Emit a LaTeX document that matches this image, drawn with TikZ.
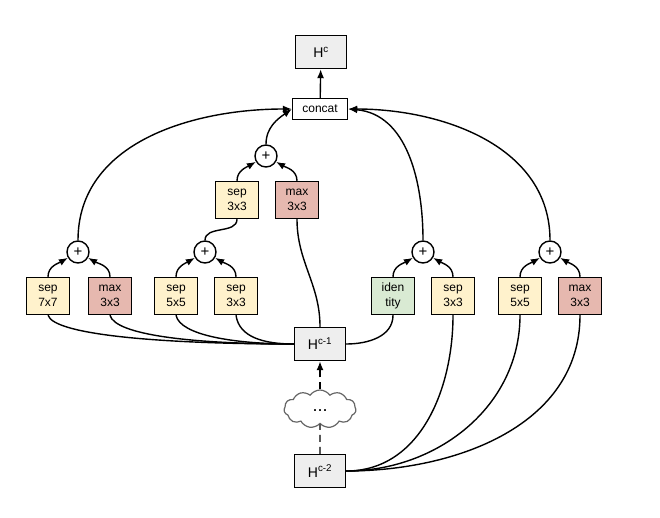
\documentclass[tikz,border=0pt]{standalone}
\usepackage{fontspec}
\setmainfont{Liberation Sans}
\usetikzlibrary{arrows.meta,shapes.symbols}
\definecolor{sepc}{HTML}{FFF2CC}
\definecolor{maxc}{HTML}{E6B8AF}
\definecolor{idc}{HTML}{D9EAD3}
\definecolor{hc}{HTML}{EEEEEE}
\begin{document}
\begin{tikzpicture}[x=1pt,y=-1pt,
  every node/.style={inner sep=0pt, font=\fontsize{12}{14.5}\selectfont},
  op/.style={draw, line width=1.4pt, minimum width=43pt, minimum height=37pt, align=center},
  sepbox/.style={op, fill=sepc},
  maxbox/.style={op, fill=maxc},
  idbox/.style={op, fill=idc},
  hbox/.style={draw, line width=1.4pt, fill=hc, minimum width=51pt, minimum height=33pt, font=\fontsize{14}{16}\selectfont},
  plus/.style={draw, circle, line width=1.4pt, fill=white, minimum size=22pt, font=\fontsize{15}{16}\selectfont},
  conn/.style={line width=1.4pt},
  arr/.style={conn, -{Latex[length=9pt,width=7pt]}}
]
\useasboundingbox (0,0) rectangle (660,518);
% nodes
\node[hbox] (Hc) at (321,52) {H\textsuperscript{c}};
\node[draw, line width=1.4pt, fill=white, minimum width=55pt, minimum height=21pt] (concat) at (320,109) {concat};
\node[plus] (pM) at (266,156) {+};
\node[sepbox] (sM) at (237,200) {sep\\3x3};
\node[maxbox] (mM) at (297,200) {max\\3x3};
\node[plus] (p1) at (78,252) {+};
\node[plus] (p2) at (205,252) {+};
\node[plus] (p3) at (423,252) {+};
\node[plus] (p4) at (550,252) {+};
\node[sepbox] (s77) at (48,296) {sep\\7x7};
\node[maxbox] (m1) at (110,296) {max\\3x3};
\node[sepbox] (s55a) at (176,296) {sep\\5x5};
\node[sepbox] (s33a) at (236,296) {sep\\3x3};
\node[idbox] (id) at (393,296) {iden\\tity};
\node[sepbox] (s33b) at (453,296) {sep\\3x3};
\node[sepbox] (s55b) at (520,296) {sep\\5x5};
\node[maxbox] (m4) at (580,296) {max\\3x3};
\node[hbox] (Hc1) at (320,344) {H\textsuperscript{c-1}};
\node[cloud, cloud puffs=11, cloud puff arc=110, aspect=1.9, draw=black!60, line width=1.2pt, fill=white, minimum width=72pt, minimum height=38pt] (cl) at (320,409) {\raisebox{-4pt}{\fontsize{18}{18}\selectfont...}};
\node[hbox] (Hc2) at (320,471) {H\textsuperscript{c-2}};
% edges
\draw[arr] (concat) -- (Hc);
\draw[arr] (p1.north) to[out=90,in=180] (concat.west);
\draw[arr] (pM.north) to[out=90,in=215] (concat.west);
\draw[arr] (p3.north) to[out=90,in=-5] (concat.east);
\draw[arr] (p4.north) to[out=90,in=0] (concat.east);
\draw[arr] (sM.north) to[out=90,in=210] (pM);
\draw[arr] (mM.north) to[out=90,in=-30] (pM);
\draw[conn] (p2.north) to[out=90,in=-90] (sM.south);
\draw[arr] (s77.north) to[out=90,in=210] (p1);
\draw[arr] (m1.north) to[out=90,in=-30] (p1);
\draw[arr] (s55a.north) to[out=90,in=210] (p2);
\draw[arr] (s33a.north) to[out=90,in=-30] (p2);
\draw[arr] (id.north) to[out=90,in=210] (p3);
\draw[arr] (s33b.north) to[out=90,in=-30] (p3);
\draw[arr] (s55b.north) to[out=90,in=210] (p4);
\draw[arr] (m4.north) to[out=90,in=-30] (p4);
% inputs
\draw[conn] (s77.south) .. controls +(6,20) and +(-130,0) .. (Hc1.west);
\draw[conn] (m1.south) .. controls +(5,20) and +(-100,0) .. (Hc1.west);
\draw[conn] (s55a.south) .. controls +(4,20) and +(-60,0) .. (Hc1.west);
\draw[conn] (s33a.south) .. controls +(3,22) and +(-30,0) .. (Hc1.west);
\draw[conn] (mM.south) to[out=-90,in=90] (Hc1.north);
\draw[conn] (id.south) to[out=-90,in=0] (Hc1.east);
\draw[conn] (s33b.south) to[out=-90,in=0] (Hc2.east);
\draw[conn] (s55b.south) to[out=-90,in=0] (Hc2.east);
\draw[conn] (m4.south) to[out=-90,in=0] (Hc2.east);
\draw[conn, dash pattern=on 7pt off 5pt] (Hc2.north) -- (cl.south);
\draw[arr, dash pattern=on 7pt off 5pt] (cl.north) -- (Hc1.south);
\end{tikzpicture}
\end{document}
